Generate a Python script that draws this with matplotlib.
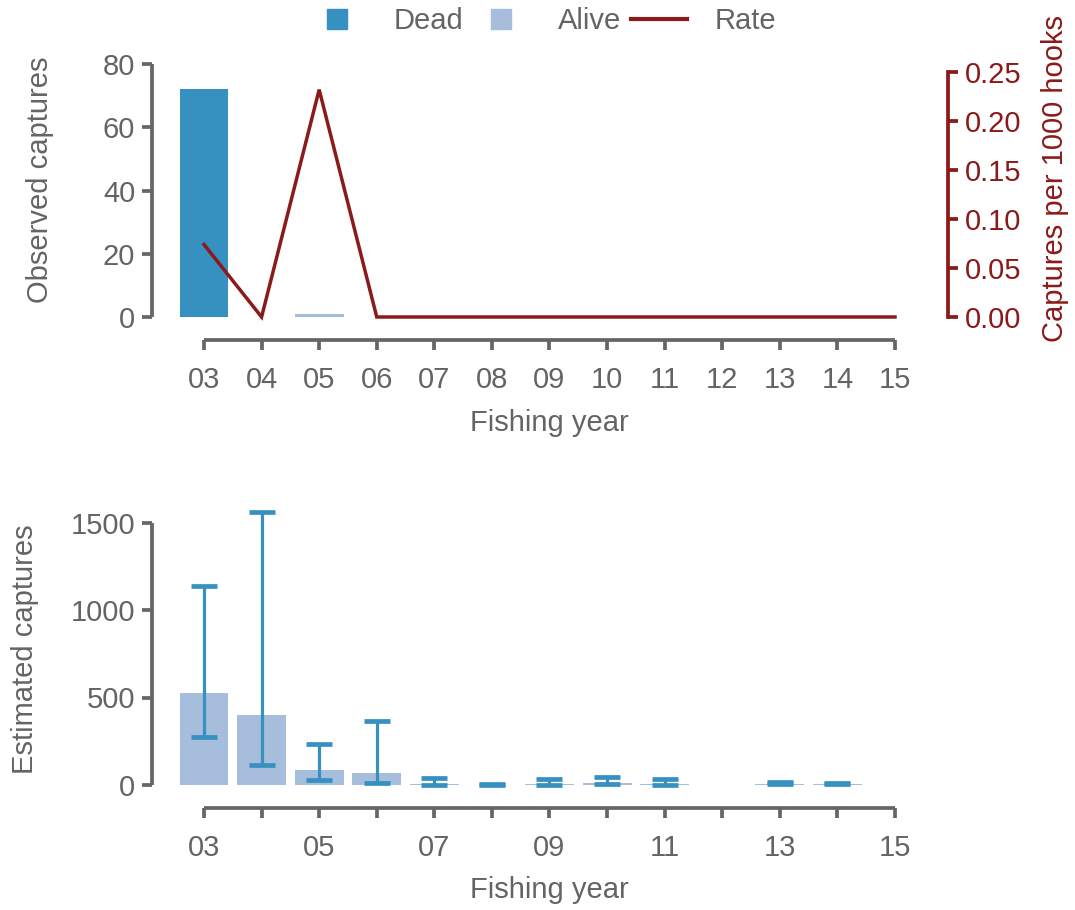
import numpy as np
import matplotlib
matplotlib.use("Agg")
import matplotlib.pyplot as plt
from matplotlib.lines import Line2D

plt.rcParams['font.family'] = ['Liberation Sans', 'DejaVu Sans']

# ---------------- data ----------------
years = [3, 4, 5, 6, 7, 8, 9, 10, 11, 12, 13, 14, 15]
year_labels = ["03", "04", "05", "06", "07", "08", "09", "10", "11", "12", "13", "14", "15"]
dead = [72, 0, 0, 0, 0, 0, 0, 0, 0, 0, 0, 0, 0]
alive = [0, 0, 1, 0, 0, 0, 0, 0, 0, 0, 0, 0, 0]
rate = [0.074, 0.0, 0.232, 0.0, 0.0, 0.0, 0.0, 0.0, 0.0, 0.0, 0.0, 0.0, 0.0]

est = [525, 400, 84, 67, 6, 1, 5, 10, 5, np.nan, 5, 4, np.nan]
est_lower = [275, 116, 27, 10, 0, 0, 0, 3, 0, np.nan, 3, 3, np.nan]
est_upper = [1135, 1559, 235, 368, 42, 3, 32, 48, 35, np.nan, 19, 14, np.nan]

obs_yticks = [0, 20, 40, 60, 80]
rate_yticks = [0.00, 0.05, 0.10, 0.15, 0.20, 0.25]
est_yticks = [0, 500, 1000, 1500]

# ---------------- style ----------------
W, H = 1075, 910
GREY = '#646464'
AXC = '#666666'
DARKRED = '#8B1A1A'
BLUE = '#3690C0'
LIGHT = '#A6BDDB'
FS = 21
SPW = 2.7

fig = plt.figure(figsize=(W / 100, H / 100), dpi=100)


def box(x0, y0, x1, y1):
    return [x0 / W, 1 - y1 / H, (x1 - x0) / W, (y1 - y0) / H]


def style_axis(ax):
    for s in ['top', 'right']:
        ax.spines[s].set_visible(False)
    for s in ['left', 'bottom']:
        ax.spines[s].set_linewidth(SPW)
        ax.spines[s].set_color(AXC)
        ax.spines[s].set_capstyle('butt')
    ax.tick_params(axis='both', colors=AXC, width=SPW, length=7, labelcolor=GREY,
                   labelsize=FS)
    ax.tick_params(axis='x', pad=12)
    ax.tick_params(axis='y', pad=5)
    ax.set_facecolor('none')


xl = (3 - 52 / 57.583, 15 + 53 / 57.583)

# ---------------- top panel ----------------
ax1 = fig.add_axes(box(152, 64, 948, 340))
ax1.set_xlim(*xl)
ax1.set_ylim(-23 / 3.1625, 80)
ax1.bar(years, dead, width=0.85, color=BLUE, edgecolor='none', zorder=2)
ax1.bar(years, alive, bottom=dead, width=0.85, color=LIGHT, edgecolor='none', zorder=2)
style_axis(ax1)
ax1.spines['left'].set_bounds(0, 80)
ax1.spines['bottom'].set_bounds(3, 15)
ax1.set_yticks(obs_yticks)
ax1.set_xticks(years)
ax1.set_xticklabels(year_labels)

ax2 = ax1.twinx()
ax2.set_ylim(-23 / 980, 0.25 + 8 / 980)
ax2.plot(years, rate, color=DARKRED, lw=2.5, zorder=3, solid_joinstyle='miter')
for s in ['top', 'left', 'bottom']:
    ax2.spines[s].set_visible(False)
ax2.spines['right'].set_bounds(0, 0.25)
ax2.spines['right'].set_color(DARKRED)
ax2.spines['right'].set_linewidth(SPW)
ax2.set_yticks(rate_yticks)
ax2.set_yticklabels([f"{v:.2f}" for v in rate_yticks])
ax2.tick_params(axis='y', colors=DARKRED, width=SPW, length=7, labelcolor=DARKRED,
                labelsize=FS, pad=5)

fig.text(40 / W, 1 - 180 / H, 'Observed captures', rotation=90, ha='center', va='center',
         color=GREY, fontsize=FS)
fig.text(1055 / W, 1 - 179 / H, 'Captures per 1000 hooks', rotation=90, ha='center',
         va='center', color=DARKRED, fontsize=FS)
fig.text(549.5 / W, 1 - 423 / H, 'Fishing year', ha='center', va='center', color=GREY,
         fontsize=FS)

handles = [Line2D([], [], marker='s', ls='none', markersize=14, color=BLUE),
           Line2D([], [], marker='s', ls='none', markersize=14, color=LIGHT),
           Line2D([], [], color=DARKRED, lw=3)]
fig.legend(handles, ['Dead', 'Alive', 'Rate'], loc='center',
           bbox_to_anchor=(543 / W, 1 - 21 / H), ncol=3, frameon=False,
           handlelength=1.92, handletextpad=0.96, columnspacing=0.35,
           fontsize=FS, labelcolor=GREY, borderpad=0, borderaxespad=0)

# ---------------- bottom panel ----------------
ax3 = fig.add_axes(box(152, 505, 948, 808))
ax3.set_xlim(*xl)
ax3.set_ylim(-23 / 0.175, (785 - 505) / 0.175)
yrs = np.array(years, dtype=float)
e = np.array(est, dtype=float)
lo = np.array(est_lower, dtype=float)
hi = np.array(est_upper, dtype=float)
ok = ~np.isnan(e)
ax3.bar(yrs[ok], e[ok], width=0.85, color=LIGHT, edgecolor='none', zorder=2)
eb = ax3.errorbar(yrs[ok], e[ok], yerr=[e[ok] - lo[ok], hi[ok] - e[ok]], fmt='none',
                  ecolor=BLUE, elinewidth=2.3, capsize=9.5, capthick=3.4, zorder=3)
style_axis(ax3)
ax3.spines['left'].set_bounds(0, 1500)
ax3.spines['bottom'].set_bounds(3, 15)
ax3.set_yticks(est_yticks)
ax3.set_xticks(years)
ax3.set_xticklabels([lab if i % 2 == 0 else '' for i, lab in enumerate(year_labels)])

fig.text(25 / W, 1 - 649 / H, 'Estimated captures', rotation=90, ha='center', va='center',
         color=GREY, fontsize=FS)
fig.text(549.5 / W, 1 - 890 / H, 'Fishing year', ha='center', va='center', color=GREY,
         fontsize=FS)

fig.savefig('out.png', dpi=100)
